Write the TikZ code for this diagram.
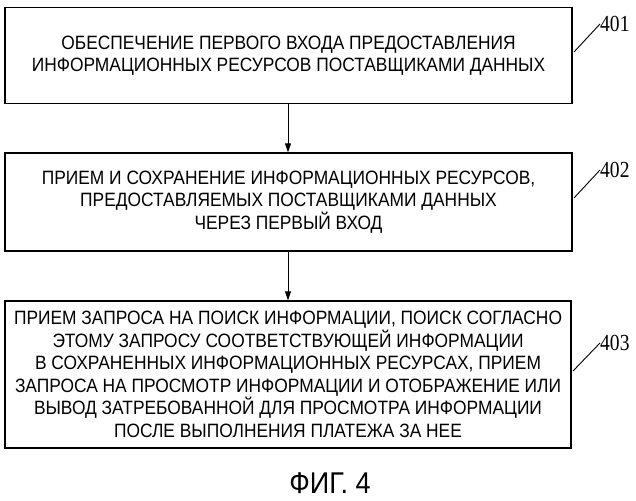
\documentclass[tikz,border=0pt]{standalone}
\usepackage{fontspec}
\setmainfont{Liberation Sans}[FakeStretch=0.9]
\newfontfamily\numfont{Liberation Serif}[FakeStretch=0.85]
\usetikzlibrary{arrows.meta}
\begin{document}
\begin{tikzpicture}[x=1pt,y=1pt,
  box/.style={draw,line width=1.3pt,align=center,font=\fontsize{19.3}{22.5}\selectfont,inner sep=0pt},
  arr/.style={-{Triangle[length=9pt,width=6pt]},line width=0.9pt},
  lead/.style={line width=0.9pt},
  lbl/.style={font=\numfont\fontsize{23}{24}\selectfont,anchor=west,inner sep=0pt}]
\useasboundingbox (0,0) rectangle (636,500);
\node[box,minimum width=567pt,minimum height=96pt] (b1) at (288.5,444.5) {ОБЕСПЕЧЕНИЕ ПЕРВОГО ВХОДА ПРЕДОСТАВЛЕНИЯ\\ИНФОРМАЦИОННЫХ РЕСУРСОВ ПОСТАВЩИКАМИ ДАННЫХ};
\node[box,minimum width=567pt,minimum height=98pt] (b2) at (288.5,298) {ПРИЕМ И СОХРАНЕНИЕ ИНФОРМАЦИОННЫХ РЕСУРСОВ,\\ПРЕДОСТАВЛЯЕМЫХ ПОСТАВЩИКАМИ ДАННЫХ\\ЧЕРЕЗ ПЕРВЫЙ ВХОД};
\node[box,minimum width=566pt,minimum height=147pt] (b3) at (288,125.5) {ПРИЕМ ЗАПРОСА НА ПОИСК ИНФОРМАЦИИ, ПОИСК СОГЛАСНО\\ЭТОМУ ЗАПРОСУ СООТВЕТСТВУЮЩЕЙ ИНФОРМАЦИИ\\В СОХРАНЕННЫХ ИНФОРМАЦИОННЫХ РЕСУРСАХ, ПРИЕМ\\ЗАПРОСА НА ПРОСМОТР ИНФОРМАЦИИ И ОТОБРАЖЕНИЕ ИЛИ\\ВЫВОД ЗАТРЕБОВАННОЙ ДЛЯ ПРОСМОТРА ИНФОРМАЦИИ\\ПОСЛЕ ВЫПОЛНЕНИЯ ПЛАТЕЖА ЗА НЕЕ};
\draw[arr] (b1.south -| 288,0) -- (b2.north -| 288,0);
\draw[arr] (b2.south -| 288,0) -- (b3.north -| 288,0);
\node[lbl] (l1) at (600,476) {401};
\node[lbl] (l2) at (600,330) {402};
\node[lbl] (l3) at (600,157) {403};
\coordinate (c1) at (574,448); \coordinate (c2) at (574,302); \coordinate (c3) at (573,129);
\draw[lead] (c1) -- (l1.west);
\draw[lead] (c2) -- (l2.west);
\draw[lead] (c3) -- (l3.west);
\node[font=\fontsize{30}{32}\selectfont] (cap) at (330,17) {ФИГ. 4};
\end{tikzpicture}
\end{document}
